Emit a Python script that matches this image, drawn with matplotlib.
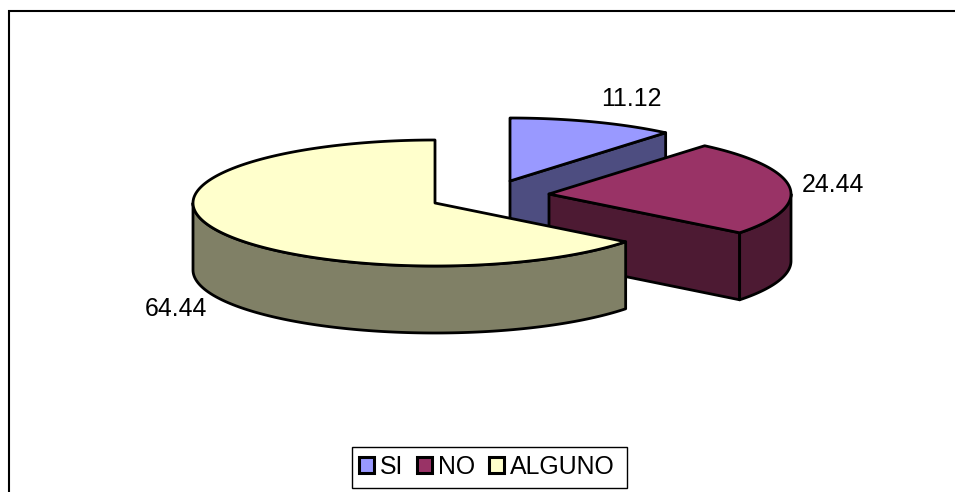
import numpy as np
import matplotlib
matplotlib.use("Agg")
import matplotlib.pyplot as plt
from matplotlib.patches import Polygon, Patch, Rectangle

categories = ["SI", "NO", "ALGUNO"]
values = [11.12, 24.44, 64.44]
value_labels = ["11.12", "24.44", "64.44"]

top_colors = ["#9999FF", "#993366", "#FFFFCC"]
side_colors = ["#4D4D80", "#4D1A33", "#808066"]
apexes = [(510, 181), (549, 194), (435, 203)]
label_pos = [(631, 99), (833, 185), (176, 309)]
RX, RY, DEPTH = 242, 63, 67
LW = 2.0
FONT = 17.9

plt.rcParams["font.family"] = ["Liberation Sans", "DejaVu Sans"]
fig = plt.figure(figsize=(9.55, 4.92), dpi=100)
ax = fig.add_axes([0, 0, 1, 1])
ax.set_xlim(0, 955)
ax.set_ylim(492, 0)
ax.axis("off")

# frame (only the top and left edges fall inside the picture)
ax.plot([9, 9, 955], [492, 11, 11], color="black", lw=1.5, solid_joinstyle="miter")


def rim(apex, t):
    return np.column_stack([apex[0] + RX * np.sin(t), apex[1] - RY * np.cos(t)])


def wall(pts, color, z):
    low = pts + np.array([0, DEPTH])
    poly = np.vstack([pts, low[::-1]])
    ax.add_patch(Polygon(poly, closed=True, facecolor=color, edgecolor="black",
                         lw=LW, joinstyle="round", zorder=z))


total = sum(values)
start = 0.0
for i, v in enumerate(values):
    sweep = 2 * np.pi * v / total
    end = start + sweep
    apex = np.array(apexes[i], dtype=float)
    z = 2 + i
    # visible radial walls
    if np.sin(start) < -1e-6:
        wall(np.vstack([apex, rim(apex, np.array([start]))]), side_colors[i], z)
    if np.sin(end) > 1e-6:
        wall(np.vstack([apex, rim(apex, np.array([end]))]), side_colors[i], z)
    # visible outer wall: the part of the rim on the front half
    a, b = max(start, np.pi / 2), min(end, 3 * np.pi / 2)
    if b > a:
        wall(rim(apex, np.linspace(a, b, 120)), side_colors[i], z)
    # top face
    arc = rim(apex, np.linspace(start, end, 240))
    ax.add_patch(Polygon(np.vstack([apex, arc]), closed=True, facecolor=top_colors[i],
                         edgecolor="black", lw=LW, joinstyle="round", zorder=z))
    ax.text(label_pos[i][0], label_pos[i][1], value_labels[i], fontsize=FONT,
            ha="center", va="center", color="black", zorder=10)
    start = end

ax.add_patch(Rectangle((352, 447), 275, 41, facecolor="white", edgecolor="black",
                       lw=1.0, zorder=10))
handles = [Patch(facecolor=c, edgecolor="black", lw=2.2) for c in top_colors]
leg = ax.legend(handles, categories, loc="center", bbox_to_anchor=(486.5, 467),
                bbox_transform=ax.transData, ncol=3, fontsize=FONT, frameon=False,
                handlelength=0.6, handleheight=0.6, handletextpad=0.24,
                columnspacing=0.56, borderpad=0, borderaxespad=0)
leg.set_zorder(11)

fig.savefig("out.png", dpi=100)
